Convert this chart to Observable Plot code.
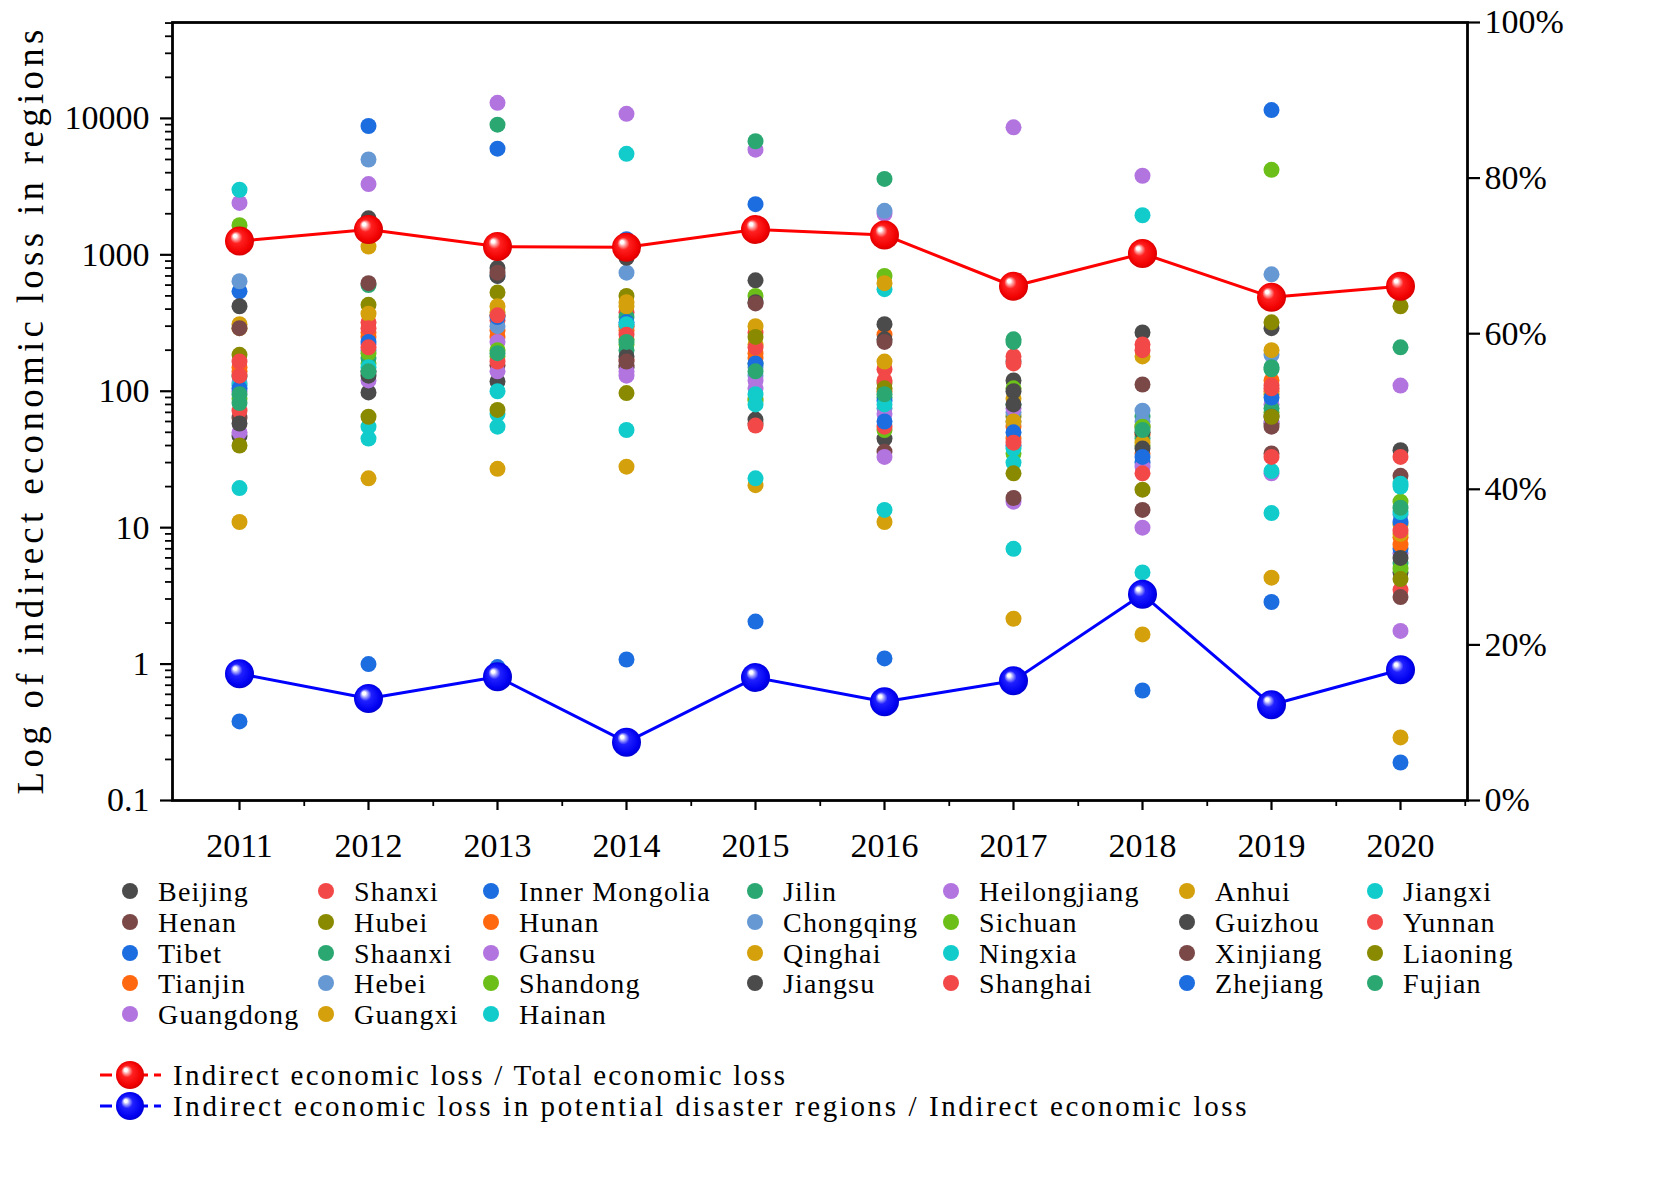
<!DOCTYPE html>
<html><head><meta charset="utf-8">
<script src="https://cdn.jsdelivr.net/npm/d3@7"></script>
<script src="https://cdn.jsdelivr.net/npm/@observablehq/plot@0.6"></script>
<style>
html,body{margin:0;padding:0;background:#fff;}
#wrap{position:relative;width:1657px;height:1197px;overflow:hidden;}
#wrap svg{position:absolute;left:0;}
</style></head><body>
<svg width="0" height="0" style="position:absolute">
  <defs>
    <radialGradient id="redBall" cx="0.5" cy="0.5" r="0.55" fx="0.33" fy="0.3">
      <stop offset="0" stop-color="#ffffff"/>
      <stop offset="0.1" stop-color="#ffffff"/>
      <stop offset="0.22" stop-color="#ff9a9a"/>
      <stop offset="0.38" stop-color="#ff2020"/>
      <stop offset="0.8" stop-color="#f00000"/>
      <stop offset="1" stop-color="#c80000"/>
    </radialGradient>
    <radialGradient id="blueBall" cx="0.5" cy="0.5" r="0.55" fx="0.33" fy="0.3">
      <stop offset="0" stop-color="#ffffff"/>
      <stop offset="0.1" stop-color="#ffffff"/>
      <stop offset="0.22" stop-color="#9a9aff"/>
      <stop offset="0.38" stop-color="#2020ff"/>
      <stop offset="0.8" stop-color="#0000f0"/>
      <stop offset="1" stop-color="#0000c0"/>
    </radialGradient>
  </defs>
</svg>
<div id="wrap"></div>
<script>
// ---------- DATA ----------
const years = ["2011","2012","2013","2014","2015","2016","2017","2018","2019","2020"];
const regions = ["Beijing","Henan","Tibet","Tianjin","Guangdong",
  "Shanxi","Hubei","Shaanxi","Hebei","Guangxi",
  "Inner Mongolia","Hunan","Gansu","Shandong","Hainan",
  "Jilin","Chongqing","Qinghai","Jiangsu",
  "Heilongjiang","Sichuan","Ningxia","Shanghai",
  "Anhui","Guizhou","Xinjiang","Zhejiang",
  "Jiangxi","Yunnan","Liaoning","Fujian"];

const loss2011 = [47,64,0.38,140,50,72,185,128,115,310,540,150,2400,88,19.5,82,640,11,420,100,1650,110,165,290,58,290,105,3000,130,40,95];
const loss2012 = [98,140,1.0,250,120,320,430,600,200,23,8800,270,220,160,45,175,5000,370,1850,3300,190,55,290,1150,130,620,230,150,210,65,140];
const loss2013 = [118,155,0.95,280,140,330,530,9000,700,27,6000,250,13000,180,55,360,300,420,800,230,200,68,165,380,700,740,350,100,360,73,190];
const loss2014 = [150,155,1.08,280,130,380,500,350,300,28,1300,300,10800,220,52,200,740,450,950,140,240,5500,170,420,180,165,320,310,260,97,230];
const loss2015 = [650,58,2.05,190,105,270,88,160,130,20.5,2350,175,5900,500,23,6800,150,300,62,120,85,80,56,220,450,440,160,95,210,250,140];
const loss2016 = [45,36,1.1,260,33,145,115,90,75,11,85,100,2000,52,13.5,3600,2100,165,310,68,700,560,55,620,240,230,60,80,120,105,95];
const loss2017 = [120,165,0.75,45,15.5,180,65,240,70,2.15,40,55,8600,105,7,80,60,88,100,75,35,38,160,60,80,16.5,50,30,42,25,230];
const loss2018 = [270,112,0.64,48,10,220,55,65,72,1.65,30,35,3800,40,4.7,45,60,180,50,28,55,1950,25,42,38,13.5,33,3.2,200,19,52];
const loss2019 = [290,35,2.85,120,25,110,320,145,185,4.3,11500,100,80,70,12.8,75,720,200,58,60,4200,26,33,95,65,55,90,0.48,105,65,150];
const loss2020 = [37,24,0.19,8.5,6.5,33,420,210,12.5,0.29,7,7.5,110,15.5,21,5.5,650,10.5,4.7,1.75,5,20,3.5,9,6,3.1,11,13,9.5,4.2,14];

const ratioTotal = [0.719,0.734,0.712,0.711,0.734,0.727,0.661,0.703,0.647,0.661];
const ratioPotential = [0.163,0.131,0.159,0.075,0.158,0.127,0.154,0.265,0.123,0.168];

const yMajorTicks = [0.1,1,10,100,1000,10000];
const pctTicks = [0,0.2,0.4,0.6,0.8,1.0];
const seriesLabels = ["Indirect economic loss / Total economic loss",
  "Indirect economic loss in potential disaster regions / Indirect economic loss"];
const yTitle = "Log of indirect economic loss in regions";

// ---------- STYLE ----------
const C = {dark:"#4b4b4b", brown:"#7b4848", blue:"#1c6de0", orange:"#ff680f", purple:"#b274df",
  red:"#f24848", olive:"#8a8a00", green:"#2ba872", steel:"#6699d3", gold:"#d4a00c", yg:"#6cbf18", cyan:"#12cccc"};
const regionColors = [C.dark,C.brown,C.blue,C.orange,C.purple,
  C.red,C.olive,C.green,C.steel,C.gold,
  C.blue,C.orange,C.purple,C.yg,C.cyan,
  C.green,C.steel,C.gold,C.dark,
  C.purple,C.yg,C.cyan,C.red,
  C.gold,C.dark,C.brown,C.blue,
  C.cyan,C.red,C.olive,C.green];
const legendColSizes = [5,5,5,4,4,4,4];
const FONT = "'Liberation Serif', 'DejaVu Serif', serif";

// ---------- BUILD ----------
const lossTable = [loss2011,loss2012,loss2013,loss2014,loss2015,loss2016,loss2017,loss2018,loss2019,loss2020];
const rows = [];
years.forEach((yr,i) => regions.forEach((r,j) => rows.push({year:yr, region:r, value:lossTable[i][j], color:regionColors[j]})));
const ratioRows = years.map((yr,i) => ({year:yr, total:ratioTotal[i], potential:ratioPotential[i]}));

const minorY = [];
for (let e = -1; e <= 4; e++) for (let k = 2; k <= 9; k++) { const v = k * Math.pow(10, e); if (v <= 50400) minorY.push(v); }

const W = 1657, H = 875;
const M = {marginTop:22, marginRight:190, marginBottom:75, marginLeft:172};
const yTop = 50466;
const step = (W - M.marginLeft - M.marginRight) / years.length;

const p1 = Plot.plot({
  width:W, height:H, ...M,
  style:{fontFamily:FONT, fontSize:"34px", color:"#000", background:"transparent", overflow:"visible"},
  x:{type:"point", domain:years, padding:0.5},
  y:{type:"log", domain:[0.1, yTop]},
  color:{type:"identity"},
  marks:[
    Plot.axisY(yMajorTicks, {tickSize:12, tickPadding:11, tickFormat:d => String(d), label:null, strokeWidth:2.2}),
    Plot.axisY(minorY, {tickSize:7, tickFormat:() => "", label:null, strokeWidth:1.8}),
    Plot.axisX(years, {tickSize:10, tickPadding:22, tickFormat:d => d, label:null, strokeWidth:2.2}),
    Plot.axisX(years, {tickSize:6, tickFormat:() => "", label:null, dx:step/2, strokeWidth:1.8}),
    Plot.dot(rows, {x:"year", y:"value", fill:"color", r:8}),
    Plot.frame({stroke:"#000", strokeWidth:2.8})
  ]
});
p1.style.top = "0px";
d3.select(p1).append("text")
  .attr("transform", "translate(43,412) rotate(-90)")
  .attr("text-anchor", "middle")
  .attr("font-family", FONT)
  .attr("font-size", 37)
  .attr("fill", "#000")
  .attr("textLength", 765)
  .attr("lengthAdjust", "spacing")
  .text(yTitle);

const p2 = Plot.plot({
  width:W, height:H, ...M,
  style:{fontFamily:FONT, fontSize:"34px", color:"#000", background:"transparent", overflow:"visible"},
  x:{type:"point", domain:years, padding:0.5, axis:null},
  y:{domain:[0,1]},
  marks:[
    Plot.axisY(pctTicks, {anchor:"right", tickSize:12, tickPadding:5, tickFormat:d3.format(".0%"), label:null, strokeWidth:2.2}),
    Plot.line(ratioRows, {x:"year", y:"total", stroke:"#ff0000", strokeWidth:3}),
    Plot.line(ratioRows, {x:"year", y:"potential", stroke:"#0000ff", strokeWidth:3}),
    Plot.dot(ratioRows, {x:"year", y:"total", r:14.5, fill:"#ff0000"}),
    Plot.dot(ratioRows, {x:"year", y:"potential", r:14.5, fill:"#0000ff"})
  ]
});
p2.style.top = "0px";
d3.select(p2).selectAll('g[fill="#ff0000"]').attr("fill", "url(#redBall)");
d3.select(p2).selectAll('g[fill="#0000ff"]').attr("fill", "url(#blueBall)");

// ---------- LEGEND ----------
const LH = 1197 - H;
const leg = d3.create("svg").attr("width", W).attr("height", LH).style("top", H + "px");
const colDotX = [130, 326, 491, 755, 951, 1187, 1375];
const rowY = [16, 47, 78, 108, 139];
let idx = 0;
legendColSizes.forEach((n, c) => {
  for (let r = 0; r < n; r++, idx++) {
    const name = regions[idx];
    leg.append("circle").attr("cx", colDotX[c]).attr("cy", rowY[r]).attr("r", 8).attr("fill", regionColors[idx]);
    leg.append("text").attr("x", colDotX[c] + 28).attr("y", rowY[r]).attr("dy", "0.35em")
      .attr("font-family", FONT).attr("font-size", 28).attr("fill", "#000")
      .attr("letter-spacing", 1.2)
      .text(name);
  }
});
const lineLeg = [{y:200, stroke:"#ff0000", fill:"url(#redBall)"}, {y:231, stroke:"#0000ff", fill:"url(#blueBall)"}];
lineLeg.forEach((L, i) => {
  leg.append("line").attr("x1", 100).attr("x2", 161).attr("y1", L.y).attr("y2", L.y)
    .attr("stroke", L.stroke).attr("stroke-width", 3).attr("stroke-dasharray", "12 6");
  leg.append("circle").attr("cx", 130).attr("cy", L.y).attr("r", 14).attr("fill", L.fill);
  leg.append("text").attr("x", 173).attr("y", L.y).attr("dy", "0.35em")
    .attr("font-family", FONT).attr("font-size", 29).attr("fill", "#000")
    .attr("textLength", seriesLabels[i].length * 13.98 - 3).attr("lengthAdjust", "spacing")
    .text(seriesLabels[i]);
});

const wrap = document.getElementById("wrap");
wrap.appendChild(p1);
wrap.appendChild(p2);
wrap.appendChild(leg.node());
</script></body></html>
